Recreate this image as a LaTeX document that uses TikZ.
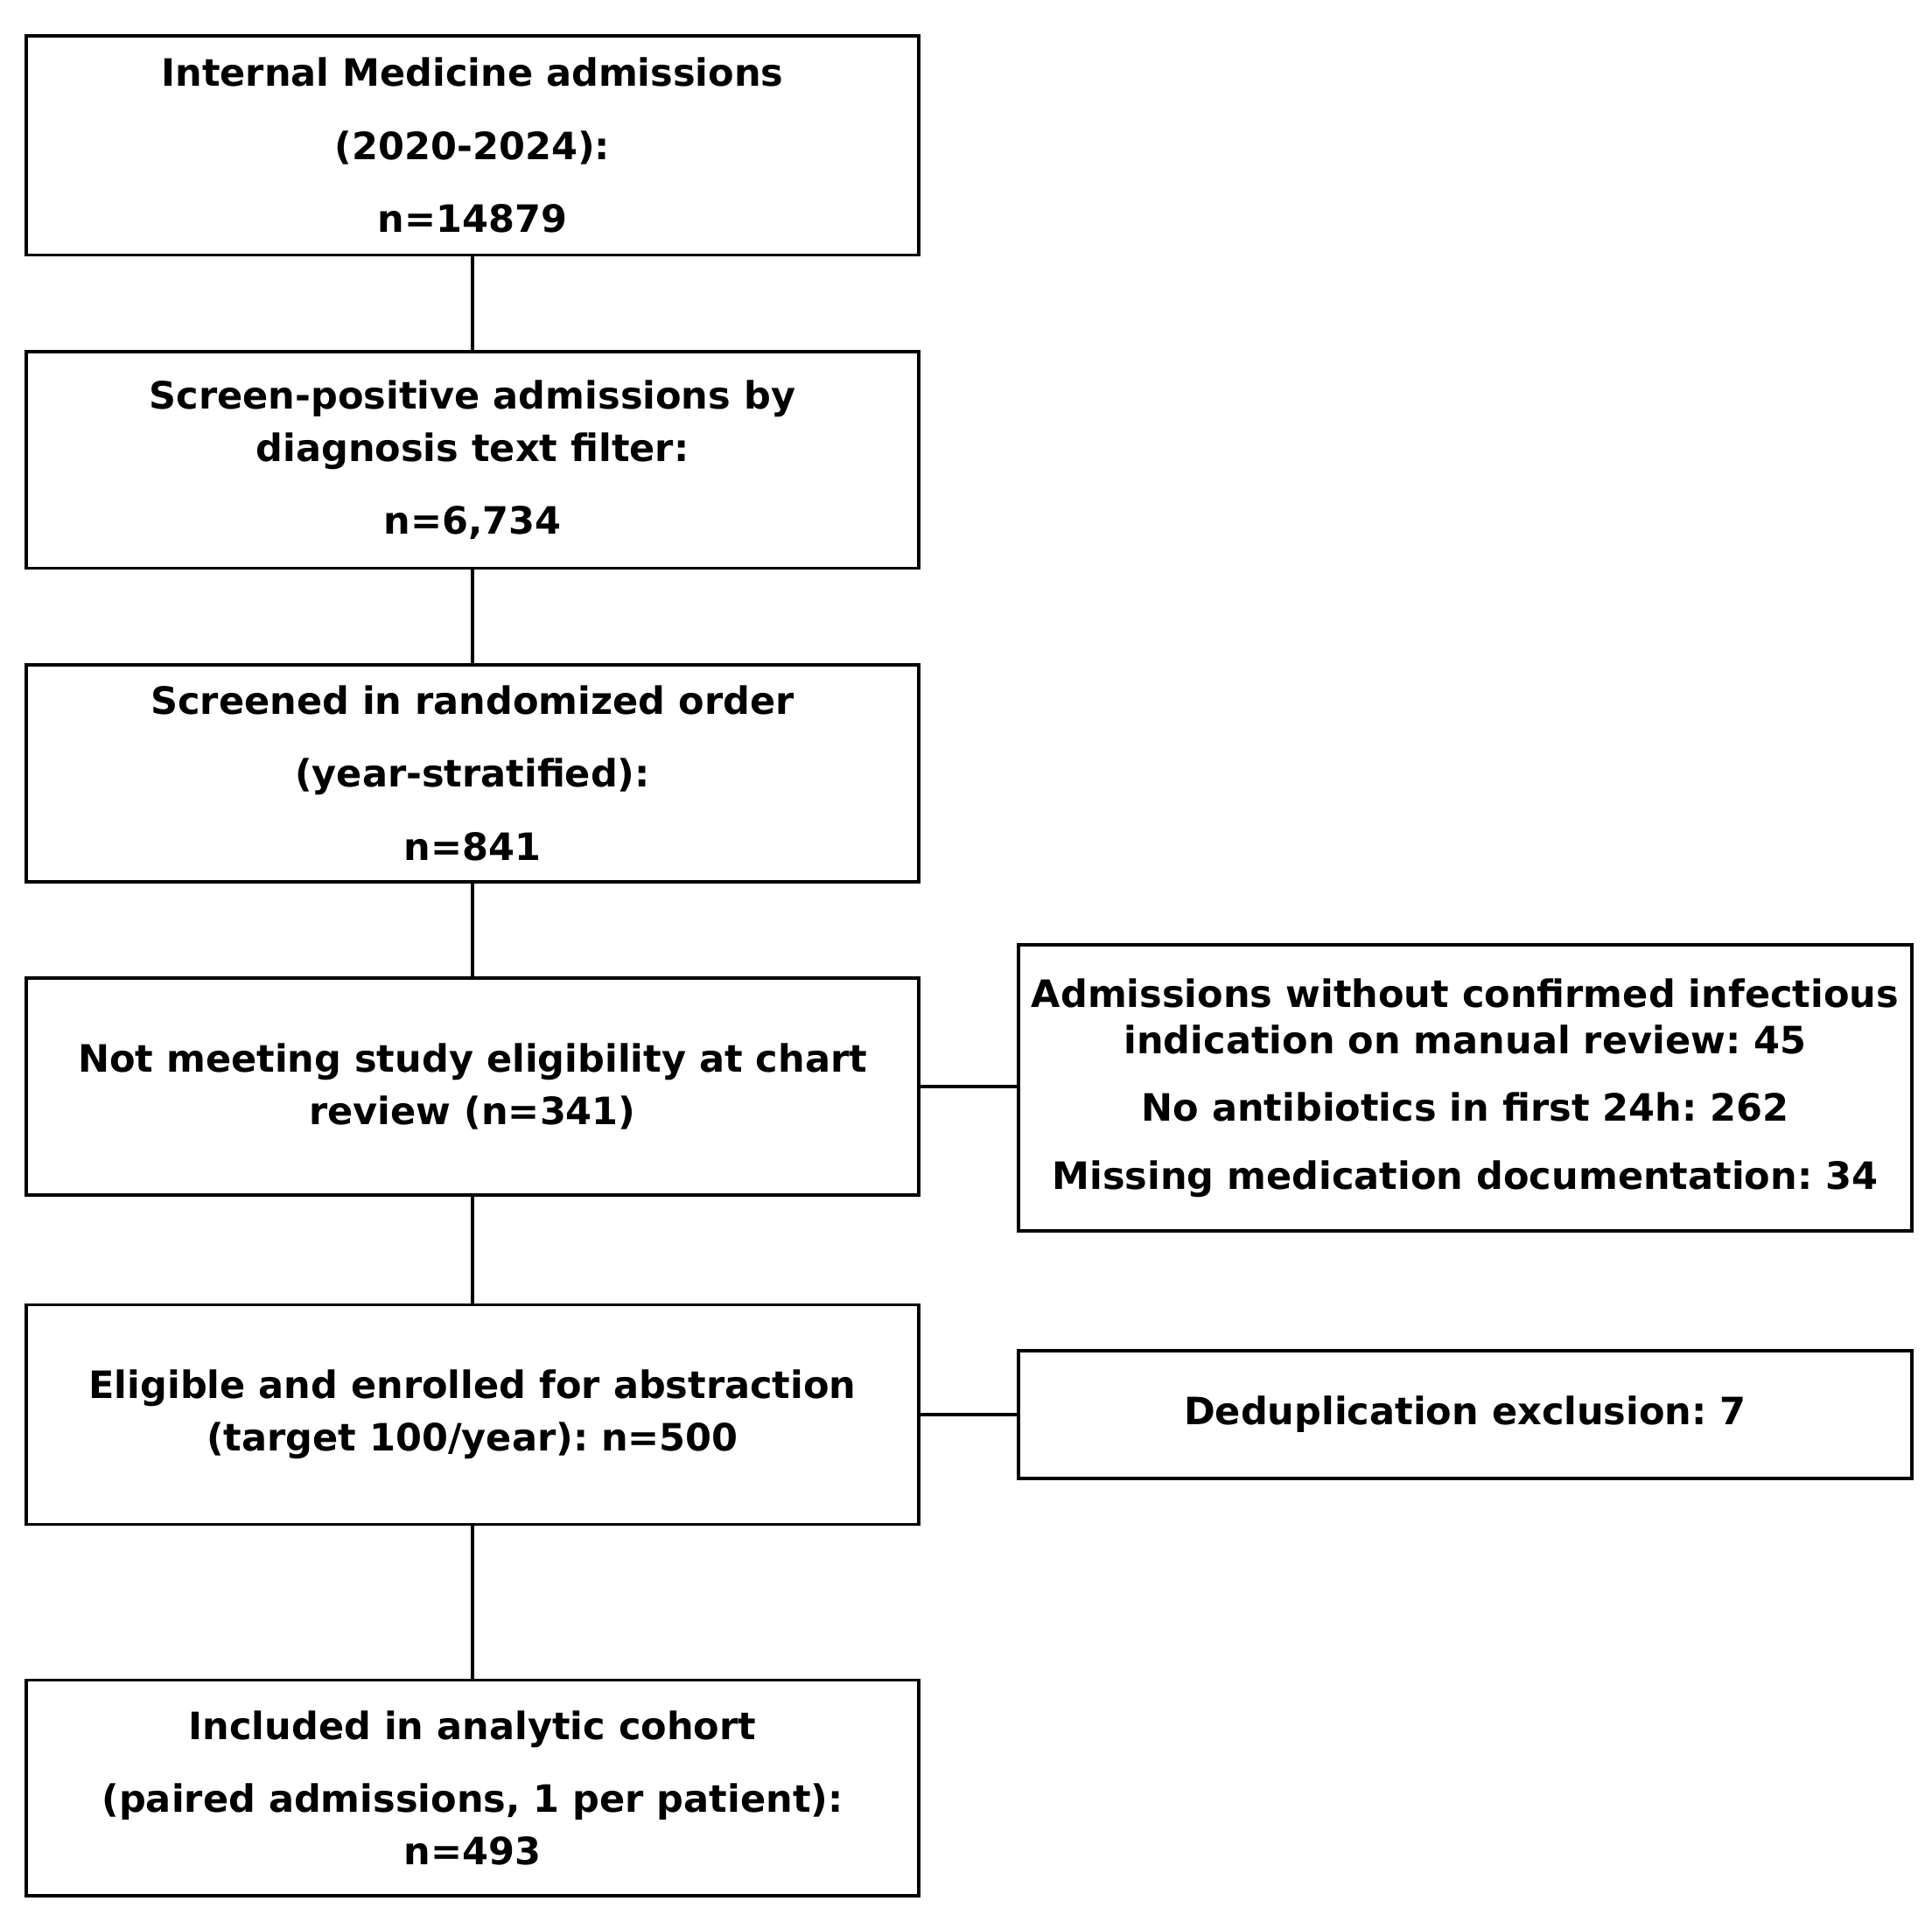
\documentclass[tikz,border=0pt]{standalone}
\usepackage{fontspec}
\setmainfont{DejaVu Sans}
\frenchspacing
\begin{document}
\begin{tikzpicture}[x=0.01cm,y=-0.01cm,line width=0.7pt,
  box/.style={draw,minimum width=7.2cm,align=center,inner sep=0pt,font=\fontsize{8.65pt}{12pt}\selectfont\bfseries}]
\useasboundingbox (0,0) rectangle (1560,1552);
\node[box,minimum height=1.77cm] (admit) at (381.5,117.5) {Internal Medicine admissions\\[4.8pt] (2020-2024):\\[4.8pt] n=14879};
\node[box,minimum height=1.75cm] (screenpos) at (381.5,371.5) {Screen-positive admissions by\\ diagnosis text filter:\\[4.8pt] n=6,734};
\node[box,minimum height=1.75cm] (screened) at (381.5,624.5) {Screened in randomized order\\[4.8pt] (year-stratified):\\[4.8pt] n=841};
\node[box,minimum height=1.75cm] (noteligible) at (381.5,877.5) {Not meeting study eligibility at chart\\ review (n=341)};
\node[box,minimum height=1.77cm] (enrolled) at (381.5,1142.5) {Eligible and enrolled for abstraction\\ (target 100/year): n=500};
\node[box,minimum height=1.74cm] (cohort) at (381.5,1444) {Included in analytic cohort\\[4.8pt] (paired admissions, 1 per patient):\\ n=493};
\node[box,minimum width=7.21cm,minimum height=2.31cm] (reasons) at (1183,878.5) {Admissions without confirmed infectious\\[-1.2pt] indication on manual review: 45\\[3.4pt] No antibiotics in first 24h: 262\\[3.6pt] Missing medication documentation: 34};
\node[box,minimum width=7.21cm,minimum height=1.03cm] (dedup) at (1183,1142.5) {Deduplication exclusion: 7};
\draw (admit) -- (screenpos);
\draw (screenpos) -- (screened);
\draw (screened) -- (noteligible);
\draw (noteligible) -- (enrolled);
\draw (enrolled) -- (cohort);
\draw (noteligible) -- (noteligible -| reasons.west);
\draw (enrolled) -- (dedup);
\end{tikzpicture}
\end{document}
